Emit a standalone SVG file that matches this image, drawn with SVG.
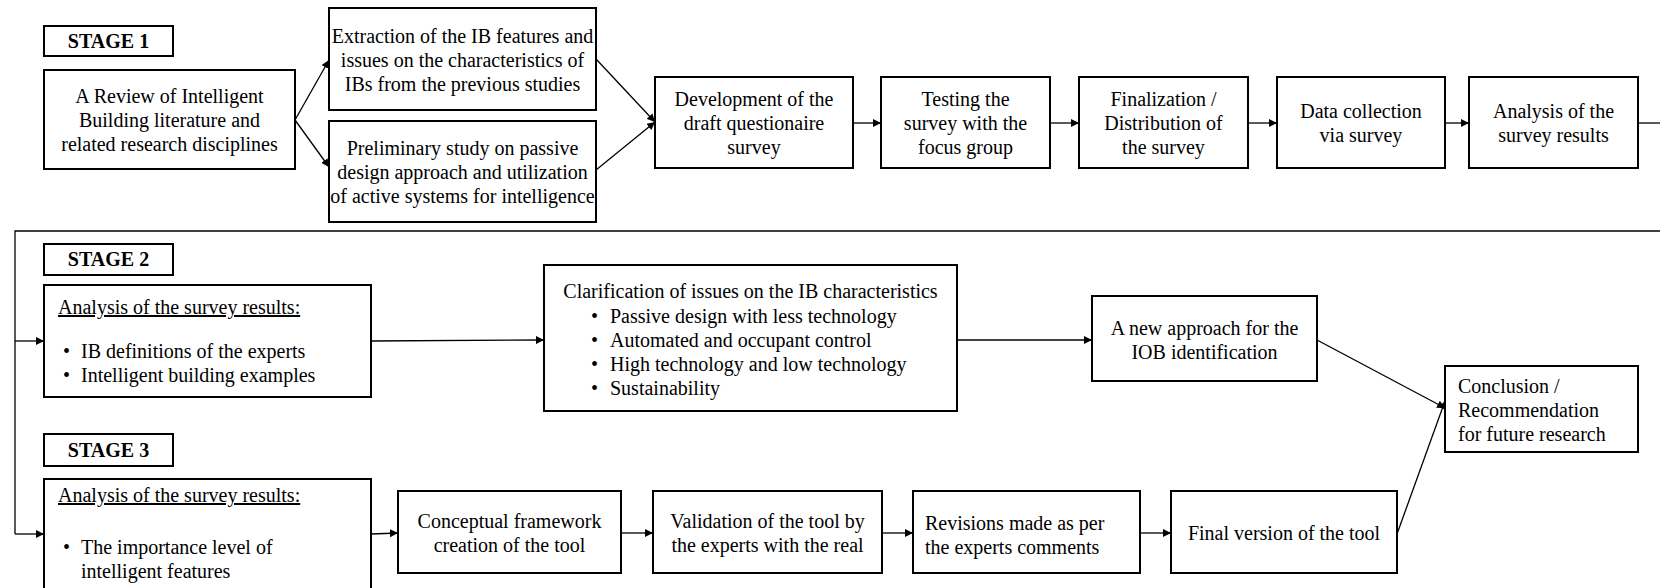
<svg xmlns="http://www.w3.org/2000/svg" width="1660" height="588" viewBox="0 0 1660 588">
  <style>
    .box { fill: #fff; stroke: #000; stroke-width: 2; }
    .t { font-family: "Liberation Serif", Tinos, "Times New Roman", Times, "DejaVu Serif", serif; font-size: 20px; fill: #000; }
    .c { text-anchor: middle; }
    .stage { font-weight: bold; }
    .u { text-decoration: underline; }
    .edge { stroke: #000; stroke-width: 1.3; fill: none; }
  </style>
  <defs>
    <marker id="arrow" viewBox="0 0 10 10" refX="10" refY="5" markerWidth="8" markerHeight="8" markerUnits="userSpaceOnUse" orient="auto">
      <path d="M0,0 L10,5 L0,10 z" fill="#000"/>
    </marker>
  </defs>
  <rect width="1660" height="588" fill="#fff"/>

  <!-- Stage 1 -->
  <g id="stage1-label">
    <rect class="box" x="44" y="26" width="129" height="30"/>
    <text class="t c stage" x="108.5" y="48">STAGE 1</text>
  </g>
  <g id="review">
    <rect class="box" x="44" y="70" width="251" height="99"/>
    <text class="t c" x="169.5" y="103">A Review of Intelligent</text>
    <text class="t c" x="169.5" y="127">Building literature and</text>
    <text class="t c" x="169.5" y="151">related research disciplines</text>
  </g>
  <g id="extraction">
    <rect class="box" x="329" y="8" width="267" height="102"/>
    <text class="t c" x="462.5" y="43">Extraction of the IB features and</text>
    <text class="t c" x="462.5" y="67">issues on the characteristics of</text>
    <text class="t c" x="462.5" y="91">IBs from the previous studies</text>
  </g>
  <g id="preliminary">
    <rect class="box" x="329" y="121" width="267" height="101"/>
    <text class="t c" x="462.5" y="155">Preliminary study on passive</text>
    <text class="t c" x="462.5" y="179">design approach and utilization</text>
    <text class="t c" x="462.5" y="203">of active systems for intelligence</text>
  </g>
  <g id="development">
    <rect class="box" x="655" y="77" width="198" height="91"/>
    <text class="t c" x="754" y="106">Development of the</text>
    <text class="t c" x="754" y="130">draft questionaire</text>
    <text class="t c" x="754" y="154">survey</text>
  </g>
  <g id="testing">
    <rect class="box" x="881" y="77" width="169" height="91"/>
    <text class="t c" x="965.5" y="106">Testing the</text>
    <text class="t c" x="965.5" y="130">survey with the</text>
    <text class="t c" x="965.5" y="154">focus group</text>
  </g>
  <g id="finalization">
    <rect class="box" x="1079" y="77" width="169" height="91"/>
    <text class="t c" x="1163.5" y="106">Finalization /</text>
    <text class="t c" x="1163.5" y="130">Distribution of</text>
    <text class="t c" x="1163.5" y="154">the survey</text>
  </g>
  <g id="data-collection">
    <rect class="box" x="1277" y="77" width="168" height="91"/>
    <text class="t c" x="1361" y="118">Data collection</text>
    <text class="t c" x="1361" y="142">via survey</text>
  </g>
  <g id="analysis1">
    <rect class="box" x="1469" y="77" width="169" height="91"/>
    <text class="t c" x="1553.5" y="118">Analysis of the</text>
    <text class="t c" x="1553.5" y="142">survey results</text>
  </g>

  <!-- Stage 2 -->
  <g id="stage2-label">
    <rect class="box" x="44" y="244" width="129" height="31"/>
    <text class="t c stage" x="108.5" y="266">STAGE 2</text>
  </g>
  <g id="analysis2">
    <rect class="box" x="44" y="285" width="327" height="112"/>
    <text class="t u" x="58" y="314">Analysis of the survey results:</text>
    <text class="t" x="63" y="358">•</text>
    <text class="t" x="81" y="358">IB definitions of the experts</text>
    <text class="t" x="63" y="382">•</text>
    <text class="t" x="81" y="382">Intelligent building examples</text>
  </g>
  <g id="clarification">
    <rect class="box" x="544" y="265" width="413" height="146"/>
    <text class="t c" x="750.5" y="298">Clarification of issues on the IB characteristics</text>
    <text class="t" x="591" y="323">•</text>
    <text class="t" x="610" y="323">Passive design with less technology</text>
    <text class="t" x="591" y="347">•</text>
    <text class="t" x="610" y="347">Automated and occupant control</text>
    <text class="t" x="591" y="371">•</text>
    <text class="t" x="610" y="371">High technology and low technology</text>
    <text class="t" x="591" y="395">•</text>
    <text class="t" x="610" y="395">Sustainability</text>
  </g>
  <g id="new-approach">
    <rect class="box" x="1092" y="296" width="225" height="85"/>
    <text class="t c" x="1204.5" y="335">A new approach for the</text>
    <text class="t c" x="1204.5" y="359">IOB identification</text>
  </g>
  <g id="conclusion">
    <rect class="box" x="1445" y="366" width="193" height="86"/>
    <text class="t" x="1458" y="393">Conclusion /</text>
    <text class="t" x="1458" y="417">Recommendation</text>
    <text class="t" x="1458" y="441">for future research</text>
  </g>

  <!-- Stage 3 -->
  <g id="stage3-label">
    <rect class="box" x="44" y="434" width="129" height="32"/>
    <text class="t c stage" x="108.5" y="457">STAGE 3</text>
  </g>
  <g id="analysis3">
    <rect class="box" x="44" y="479" width="327" height="130"/>
    <text class="t u" x="58" y="502">Analysis of the survey results:</text>
    <text class="t" x="63" y="554">•</text>
    <text class="t" x="81" y="554">The importance level of</text>
    <text class="t" x="81" y="578">intelligent features</text>
  </g>
  <g id="conceptual">
    <rect class="box" x="398" y="491" width="223" height="82"/>
    <text class="t c" x="509.5" y="528">Conceptual framework</text>
    <text class="t c" x="509.5" y="552">creation of the tool</text>
  </g>
  <g id="validation">
    <rect class="box" x="653" y="491" width="229" height="82"/>
    <text class="t c" x="767.5" y="528">Validation of the tool by</text>
    <text class="t c" x="767.5" y="552">the experts with the real</text>
  </g>
  <g id="revisions">
    <rect class="box" x="913" y="491" width="227" height="82"/>
    <text class="t" x="925" y="530">Revisions made as per</text>
    <text class="t" x="925" y="554">the experts comments</text>
  </g>
  <g id="final-version">
    <rect class="box" x="1171" y="491" width="226" height="82"/>
    <text class="t c" x="1284" y="540">Final version of the tool</text>
  </g>

  <!-- Connectors -->
  <g id="connectors">
    <line class="edge" x1="295" y1="120" x2="329" y2="60" marker-end="url(#arrow)"/>
    <line class="edge" x1="295" y1="120" x2="329" y2="167" marker-end="url(#arrow)"/>
    <line class="edge" x1="596" y1="59" x2="655" y2="122" marker-end="url(#arrow)"/>
    <line class="edge" x1="596" y1="170" x2="655" y2="122" marker-end="url(#arrow)"/>
    <line class="edge" x1="853" y1="123" x2="881" y2="123" marker-end="url(#arrow)"/>
    <line class="edge" x1="1050" y1="123" x2="1079" y2="123" marker-end="url(#arrow)"/>
    <line class="edge" x1="1248" y1="123" x2="1277" y2="123" marker-end="url(#arrow)"/>
    <line class="edge" x1="1445" y1="123" x2="1469" y2="123" marker-end="url(#arrow)"/>
    <line class="edge" x1="1638" y1="123" x2="1660" y2="123"/>
    <polyline class="edge" points="1660,231 15,231 15,534"/>
    <line class="edge" x1="15" y1="341" x2="44" y2="341" marker-end="url(#arrow)"/>
    <line class="edge" x1="15" y1="534" x2="44" y2="534" marker-end="url(#arrow)"/>
    <line class="edge" x1="371" y1="341" x2="544" y2="340" marker-end="url(#arrow)"/>
    <line class="edge" x1="957" y1="340" x2="1092" y2="340" marker-end="url(#arrow)"/>
    <line class="edge" x1="1317" y1="340" x2="1445" y2="408" marker-end="url(#arrow)"/>
    <line class="edge" x1="371" y1="534" x2="398" y2="533" marker-end="url(#arrow)"/>
    <line class="edge" x1="621" y1="533" x2="653" y2="533" marker-end="url(#arrow)"/>
    <line class="edge" x1="882" y1="533" x2="913" y2="533" marker-end="url(#arrow)"/>
    <line class="edge" x1="1140" y1="533" x2="1171" y2="533" marker-end="url(#arrow)"/>
    <line class="edge" x1="1397" y1="534" x2="1445" y2="401" marker-end="url(#arrow)"/>
  </g>
</svg>
